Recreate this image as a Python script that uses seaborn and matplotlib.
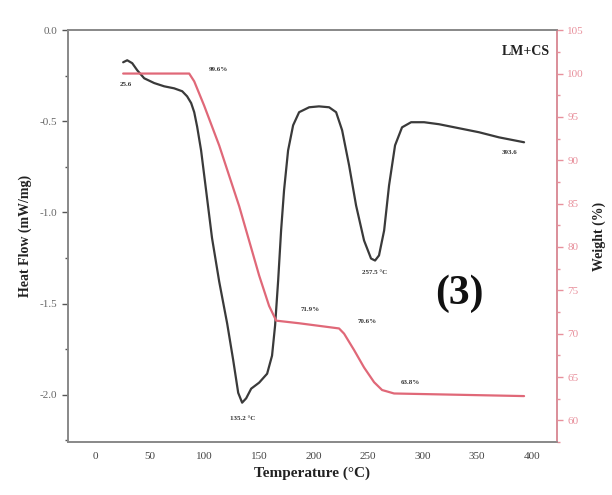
import matplotlib
matplotlib.use("Agg")
import matplotlib.pyplot as plt
import seaborn as sns
import pandas as pd
from matplotlib.ticker import MultipleLocator

sns.set_theme(style="white")
plt.rcParams['font.family'] = ['Liberation Serif', 'DejaVu Serif']

# DSC curve (heat flow, mW/mg)
dsc_temp = [25.6, 29.3, 33.9, 38.5, 44.9, 54.0, 63.2, 72.3, 79.7, 84.2, 87.9, 90.7,
            93.4, 97.0, 101.6, 107.0, 113.6, 120.9, 126.4, 131.0, 134.6, 138.3,
            142.9, 150.2, 157.5, 162.0, 164.8, 167.6, 170.3, 173.0, 176.7, 181.3,
            186.8, 196.0, 205.0, 214.3, 220.7, 226.2, 232.6, 239.0, 246.3, 252.7,
            256.4, 260.0, 264.7, 269.2, 274.7, 281.1, 289.4, 301.3, 315.0, 333.3,
            351.6, 369.9, 392.9]
dsc_heat = [-0.176, -0.165, -0.181, -0.22, -0.264, -0.29, -0.308, -0.319, -0.335,
            -0.363, -0.40, -0.45, -0.53, -0.66, -0.88, -1.14, -1.38, -1.61,
            -1.81, -1.99, -2.044, -2.02, -1.967, -1.934, -1.885, -1.786, -1.62,
            -1.374, -1.099, -0.879, -0.66, -0.522, -0.45, -0.423, -0.418, -0.423,
            -0.45, -0.549, -0.742, -0.962, -1.154, -1.253, -1.264, -1.236, -1.099,
            -0.852, -0.632, -0.533, -0.505, -0.505, -0.516, -0.538, -0.56, -0.588,
            -0.615]

# TGA curve (weight, %)
tga_temp = [25.6, 86.1, 90.7, 99.8, 113.6, 131.9, 150.2, 159.3, 165.8, 186.8,
            223.4, 228.0, 237.2, 246.3, 255.5, 262.8, 273.8, 392.9]
tga_weight = [100.0, 100.0, 99.1, 96.3, 91.7, 84.7, 76.7, 73.2, 71.5, 71.2,
              70.6, 70.0, 68.1, 66.1, 64.4, 63.5, 63.1, 62.8]

# annotations
dsc_labels = ["25.6", "135.2 °C", "257.5 °C", "393.6"]
dsc_label_pos = [(28, -0.30), (135, -2.13), (256, -1.33), (380, -0.67)]
tga_labels = ["99.6%", "71.9%", "70.6%", "63.8%"]
tga_label_pos = [(104, 100.5), (188, 72.8), (240, 71.4), (280, 64.4)]

dark = "#3a3a3a"
red = "#e06878"
pink = "#e8909c"

fig = plt.figure(figsize=(6.12, 4.95), dpi=100)
ax = fig.add_axes([0.111, 0.107, 0.799, 0.832])
ax2 = ax.twinx()

sns.lineplot(data=pd.DataFrame({"T": dsc_temp, "H": dsc_heat}), x="T", y="H",
             ax=ax, color=dark, lw=1.6, sort=False)
sns.lineplot(data=pd.DataFrame({"T": tga_temp, "W": tga_weight}), x="T", y="W",
             ax=ax2, color=red, lw=1.6, sort=False)

ax.set_xlim(-25, 423)
ax.set_ylim(-2.26, 0.0)
ax2.set_ylim(57.5, 105)

ax.xaxis.set_major_locator(MultipleLocator(50))
ax.xaxis.set_minor_locator(MultipleLocator(25))
ax.yaxis.set_major_locator(MultipleLocator(0.5))
ax.yaxis.set_minor_locator(MultipleLocator(0.25))
ax2.yaxis.set_major_locator(MultipleLocator(5))
ax2.yaxis.set_minor_locator(MultipleLocator(2.5))
ax.set_yticks([0.0, -0.5, -1.0, -1.5, -2.0])
ax.set_yticklabels(["0.0", "-0.5", "-1.0", "-1.5", "-2.0"])

for a in (ax, ax2):
    for s in a.spines.values():
        s.set_color("#888888")
        s.set_linewidth(1.2)
ax2.spines["right"].set_color(pink)

ax.tick_params(axis="both", which="both", direction="out", colors="#555555",
               labelsize=8, length=4, width=1)
ax.tick_params(axis="both", which="minor", length=2)
ax.tick_params(axis="x", labelcolor="#444444")
ax.tick_params(axis="y", labelcolor="#666666")
ax2.tick_params(axis="y", which="both", direction="out", colors=pink,
                labelsize=8, length=4, width=1)
ax2.tick_params(axis="y", which="minor", length=2)

ax.set_xlabel("Temperature (°C)", fontsize=11, fontweight="bold", color="#222222", labelpad=4)
ax.set_ylabel("Heat Flow (mW/mg)", fontsize=10, fontweight="bold", color="#222222", labelpad=6)
ax2.set_ylabel("Weight (%)", fontsize=10, fontweight="bold", color="#222222", labelpad=6)

for t, (x, y) in zip(dsc_labels, dsc_label_pos):
    ax.text(x, y, t, fontsize=5, fontweight="bold", color="#333333", ha="center", va="center")
for t, (x, y) in zip(tga_labels, tga_label_pos):
    ax2.text(x, y, t, fontsize=5, fontweight="bold", color="#333333", ha="left", va="center")

ax.text(0.985, 0.965, "LM+CS", transform=ax.transAxes, fontsize=10, fontweight="bold",
        ha="right", va="top", color="#222222")
ax.text(0.80, 0.36, "(3)", transform=ax.transAxes, fontsize=30, fontweight="bold",
        ha="center", va="center", color="#111111")

fig.savefig("out.png", dpi=100)
